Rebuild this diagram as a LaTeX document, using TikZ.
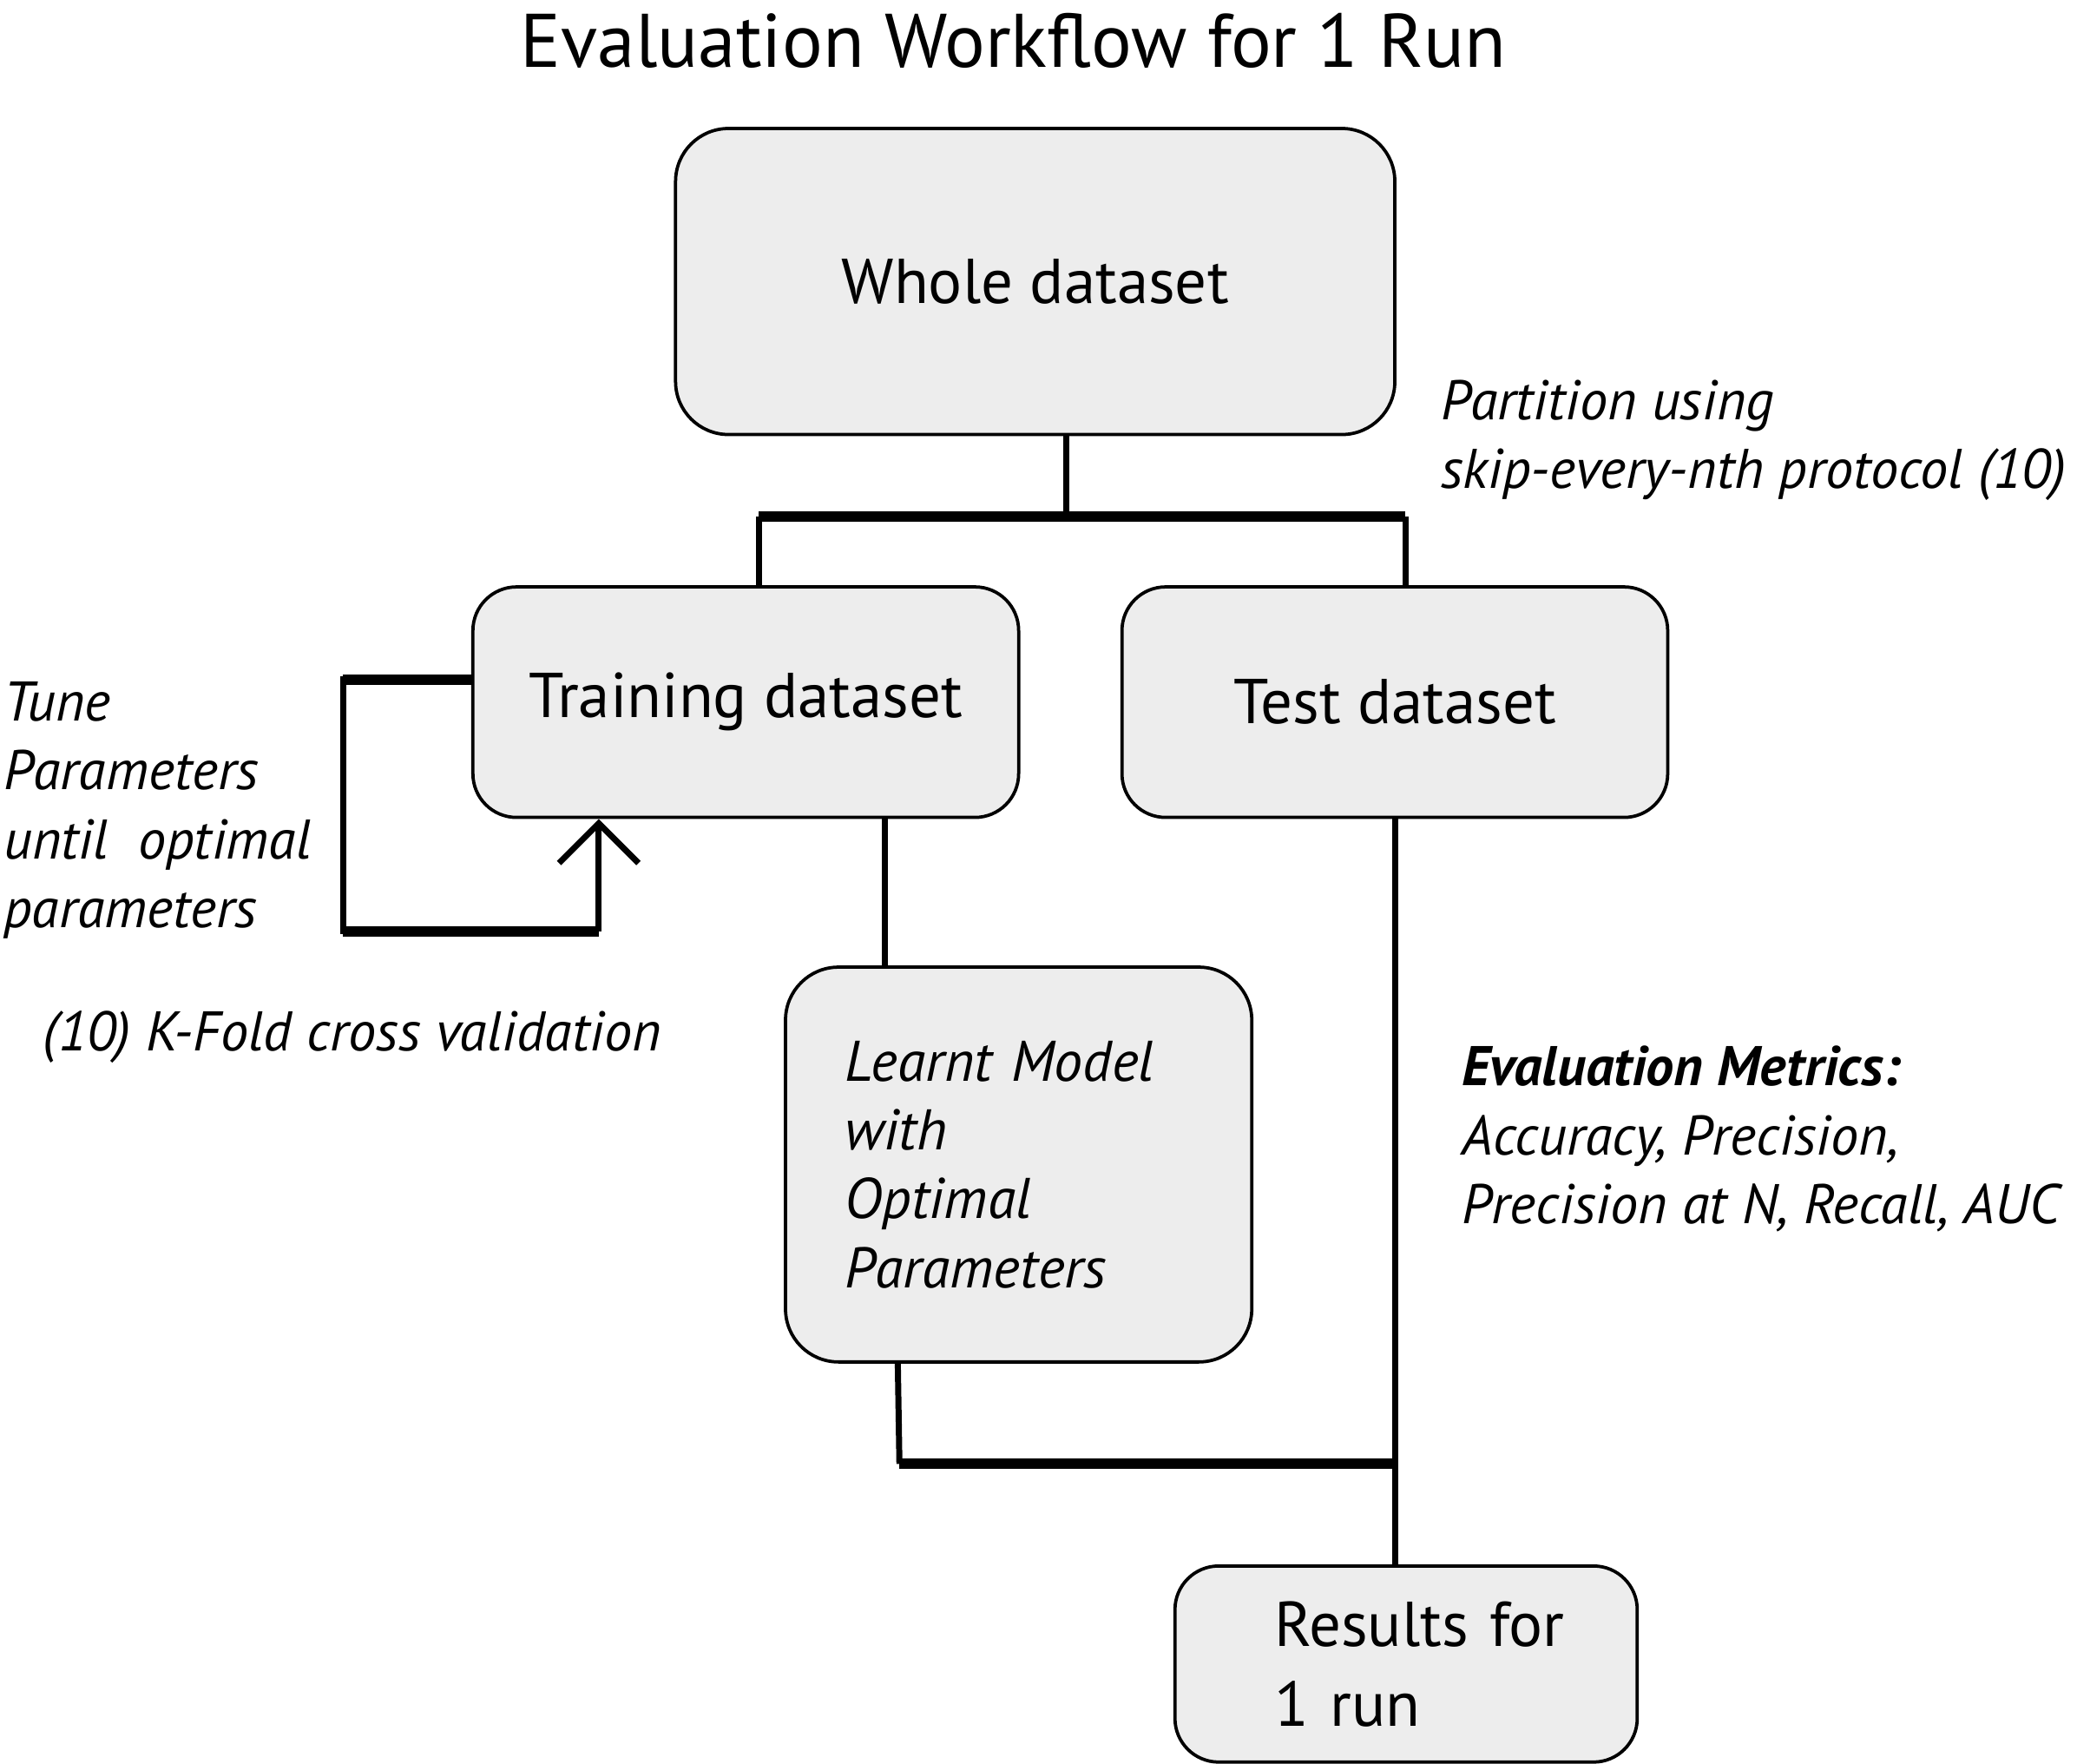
\documentclass[tikz,border=0pt]{standalone}
\usepackage{fontspec}
\setmainfont{PT Sans}
\usetikzlibrary{arrows.meta}
\usetikzlibrary{calc}
\definecolor{boxgray}{RGB}{237,237,237}

\begin{document}
\begin{tikzpicture}[
    databox/.style={draw=black, line width=0.7pt, fill=boxgray, rounded corners=0.33cm, inner sep=0pt},
    boxtext/.style={font=\fontsize{13.6}{17}\selectfont},
    link/.style={black, line width=1.3pt},
    bar/.style={black, line width=2.2pt},
    note/.style={font=\itshape\fontsize{12}{14.8}\selectfont, align=left, inner sep=0pt}
]
            \useasboundingbox (0,0) rectangle (15.68,13.31);

            \node (title) at (7.65,13.00) {\fontsize{16.3}{19}\selectfont Evaluation Workflow for 1 Run};

            % boxes
            \node[databox, boxtext, rounded corners=0.4cm, minimum width=5.43cm,
                  minimum height=2.31cm] (whole) at (7.815,11.185) {Whole dataset};
            \node[databox, boxtext, minimum width=4.12cm, minimum height=1.74cm] (train) at (5.63,8.01) {Training dataset};
            \node[databox, boxtext, minimum width=4.12cm, minimum height=1.74cm] (test) at (10.53,8.01) {Test dataset};
            \node[databox, rounded corners=0.4cm, minimum height=2.98cm, text width=2.62cm,
                  inner xsep=0.45cm, align=left,
                  font=\itshape\fontsize{12.3}{14.8}\selectfont] (learnt) at (7.69,4.52)
                  {Learnt Model\\with\\Optimal\\Parameters};
            \node[databox, minimum width=3.49cm, minimum height=1.48cm, text width=2.74cm,
                  inner xsep=0.375cm, align=left, font=\fontsize{13.6}{17.2}\selectfont] (results) at (10.615,0.75)
                  {\hspace*{0.375cm}Results for\\\hspace*{0.375cm}1 run};

            % notes
            \node[note, anchor=north west] (partition) at (10.87,10.45) {Partition using\\skip-every-nth protocol (10)};
            \node[note, anchor=north west] (tune) at (0.02,8.17) {Tune\\Parameters\\until~ optimal\\parameters};
            \node[note, anchor=west] (kfold) at (0.32,5.48) {(10) K-Fold cross validation};
            \node[note, anchor=north west] (metrics) at (11.03,5.42)
                  {\textbf{Evaluation Metrics:}\\Accuracy, Precision,\\Precision at N, Recall, AUC};

            % partition
            \coordinate (split) at (8.05,9.41);
            \coordinate (splitL) at (5.73,9.41);
            \coordinate (splitR) at (10.61,9.41);
            \draw[link] (whole.south -| split) -- (split);
            \draw[link] (splitL) -- (splitL |- train.north);
            \draw[link] (splitR) -- (splitR |- test.north);
            \draw[bar] (splitL) -- (splitR);

            % tuning loop
            \coordinate (loopL) at (2.59,6.28);
            \coordinate (loopR) at (4.52,6.28);
            \draw[link] ([yshift=0.17cm]train.west) -| (loopL) -- (loopR);
            \draw[bar] ([yshift=0.17cm]train.west) -- ([yshift=0.17cm]train.west -| loopL);
            \draw[bar] (loopL) -- (loopR);
            \draw[link, -{Straight Barb[length=3mm, width=6mm]}] (loopR) -- (loopR |- train.south);

            % model and results
            \draw[link] ($(train.south west)+(3.12,0)$) -- ($(learnt.north west)+(0.76,0)$);
            \coordinate (mergeL) at (6.79,2.26);
            \coordinate (merge) at (10.53,2.26);
            \draw[link] ($(learnt.south west)+(0.86,0)$) -- (mergeL);
            \draw[bar] (mergeL) -- (merge);
            \draw[link] (test.south) -- (test.south |- results.north);
        \end{tikzpicture}
\end{document}
